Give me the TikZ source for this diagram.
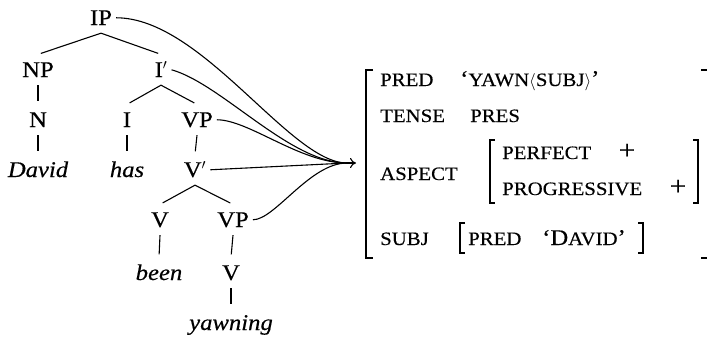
\documentclass[tikz,border=0pt]{standalone}
\usepackage{fontspec}
\setmainfont{Liberation Serif}[FakeStretch=1.1,FakeBold=0.4]
\usetikzlibrary{arrows.meta}
\newcommand\treefont{\fontsize{22.5}{26}\selectfont}
\newcommand\fsc[1]{{\fontsize{19}{22}\selectfont #1}}
\tikzset{
  cat/.style={anchor=base,inner xsep=4pt,inner ysep=8pt,text height=14.5pt,
    text depth=0pt,font=\treefont},
  word/.style={cat,font=\treefont\itshape},
  tline/.style={line width=1.1pt,shorten >=3pt},
  proj/.style={line width=1.1pt},
  attr/.style={anchor=base west,inner sep=0pt,font=\treefont},
  val/.style={anchor=base,inner sep=0pt,font=\fontsize{27}{30}\selectfont},
  brk/.style={line width=1.2pt},
}
\begin{document}
\begin{tikzpicture}[x=1bp,y=-1bp]
  \useasboundingbox (0,0) rectangle (714,337);
  % c-structure
  \node[cat] (ip) at (101,25) {IP};
  \node[cat] (np) at (38,77) {NP};
  \node[cat] (ibar) at (161,77) {I$'$};
  \node[cat] (n) at (38,127) {N};
  \node[cat] (i) at (127,127) {I};
  \node[cat] (vp) at (197,127) {VP};
  \node[word] (david) at (38,177) {David};
  \node[word] (has) at (127,177) {has};
  \node[cat] (vbar) at (195,177) {V$'$};
  \node[cat] (v) at (160,227) {V};
  \node[cat] (vpb) at (233,227) {VP};
  \node[word] (been) at (159,280) {been};
  \node[cat] (vb) at (231,280) {V};
  \node[word] (yawning) at (231,330) {yawning};
  \foreach \a/\b in {ip/np,ip/ibar,np/n,n/david,ibar/i,ibar/vp,i/has,vp/vbar,
    vbar/v,vbar/vpb,v/been,vpb/vb,vb/yawning}
    \draw[tline] (\a.south) -- (\b.north);
  % projections into the f-structure
  \coordinate (hub) at (347,163);
  \coordinate (tip) at (356,163);
  \draw[proj] (ip.east) .. controls +(86,0) and +(-57,0) .. (hub);
  \draw[proj] (ibar.east) .. controls +(50,14) and +(-57,0) .. (hub);
  \draw[proj] (vp.east) .. controls +(32,0) and +(-47,0) .. (hub);
  \draw[proj] (vbar.east) -- (hub);
  \draw[proj] (vpb.east) .. controls +(22,0) and +(-37,0) .. (hub);
  \draw[proj,-{To[length=6bp,width=10bp]}] (hub) -- (tip);
  % f-structure
  \draw[brk] (373,70) -- (366,70) -- (366,258) -- (373,258);
  \draw[brk] (701,70) -- (707,70);
  \draw[brk] (701,258) -- (707,258);
  \node[attr] (pred) at (380,86) {\fsc{PRED}};
  \node[attr] (predv) at (460,86) {‘\fsc{YAWN$\langle$SUBJ$\rangle$}’};
  \node[attr] (tense) at (380,122) {\fsc{TENSE}};
  \node[attr] (tensev) at (470,122) {\fsc{PRES}};
  \node[attr] (aspect) at (380,180) {\fsc{ASPECT}};
  \draw[brk] (495,140) -- (490,140) -- (490,203) -- (495,203);
  \draw[brk] (693,140) -- (698,140) -- (698,203) -- (693,203);
  \node[attr] (perf) at (502,159) {\fsc{PERFECT}};
  \node[val] (perfv) at (627,159) {+};
  \node[attr] (prog) at (502,195) {\fsc{PROGRESSIVE}};
  \node[val] (progv) at (678,195) {+};
  \node[attr] (subj) at (380,245) {\fsc{SUBJ}};
  \draw[brk] (465,223) -- (460,223) -- (460,253) -- (465,253);
  \draw[brk] (638,223) -- (643,223) -- (643,253) -- (638,253);
  \node[attr] (spred) at (468,245) {\fsc{PRED}};
  \node[attr] (sval) at (542,245) {‘D\fsc{AVID}’};
\end{tikzpicture}
\end{document}
